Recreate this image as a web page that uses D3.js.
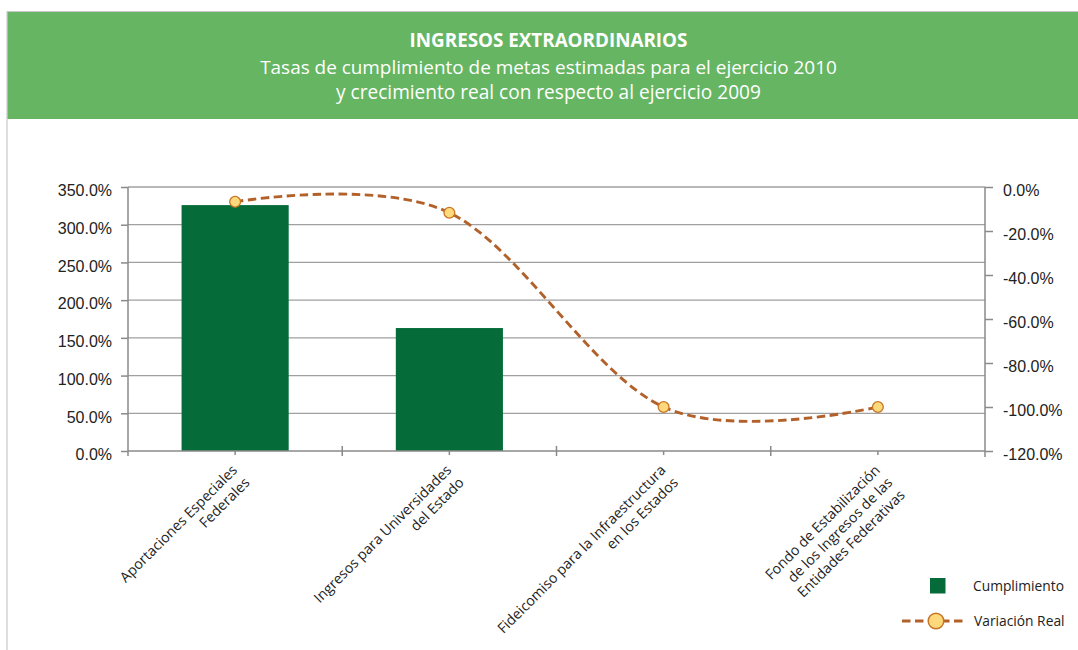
<!DOCTYPE html>
<html>
<head>
<meta charset="utf-8">
<script src="https://cdn.jsdelivr.net/npm/d3@7"></script>
<style>
  html, body { margin: 0; padding: 0; background: #fff; }
  svg { display: block; font-family: "Open Sans", "Noto Sans", sans-serif; }
</style>
</head>
<body>
<svg id="chart" width="1078" height="650"></svg>
<script>
// ---------- data ----------
const titleText = "INGRESOS EXTRAORDINARIOS";
const subtitleLines = [
  "Tasas de cumplimiento de metas estimadas para el ejercicio 2010",
  "y crecimiento real con respecto al ejercicio 2009"
];
const categories = [
  ["Aportaciones Especiales", "Federales"],
  ["Ingresos para Universidades", "del Estado"],
  ["Fideicomiso para la Infraestructura", "en los Estados"],
  ["Fondo de Estabilización", "de los Ingresos de las", "Entidades  Federativas"]
];
const categoryKeys = categories.map(c => c.join(" "));
const cumplimiento = [326.0, 163.0, 0, 0];          // %, left axis
const variacionReal = [-6.7, -11.7, -100.0, -100.0]; // %, right axis
const leftTicks = [0, 50, 100, 150, 200, 250, 300, 350];
const rightTicks = [0, -20, -40, -60, -80, -100, -120];
const legendLabels = ["Cumplimiento", "Variación Real"];

// ---------- styles ----------
const headerGreen = "#66b562";
const barColor = "#046b39";
const lineColor = "#b3612a";
const markerFill = "#fdd97c";
const markerStroke = "#c67626";
const gridColor = "#a0a0a0";
const axisColor = "#8a8a8a";
const textColor = "#222";

const svg = d3.select("#chart");

// ---------- frame and header ----------
svg.append("line").attr("x1", 7).attr("x2", 1078).attr("y1", 11.5).attr("y2", 11.5)
  .attr("stroke", "#c8c8c8").attr("stroke-width", 1);
svg.append("line").attr("x1", 7).attr("x2", 7).attr("y1", 11.5).attr("y2", 650)
  .attr("stroke", "#c8c8c8").attr("stroke-width", 1.2);
svg.append("rect").attr("x", 7.5).attr("y", 12).attr("width", 1071).attr("height", 107)
  .attr("fill", headerGreen);

function fitText(sel, target) {
  const base = parseFloat(sel.attr("font-size"));
  const w = sel.node().getComputedTextLength();
  if (w > 0) sel.attr("font-size", (base * target / w).toFixed(2));
}
const cxHeader = 548.5;
const t0 = svg.append("text").attr("x", cxHeader).attr("y", 47).attr("text-anchor", "middle")
  .attr("fill", "#fff").attr("font-weight", "bold").attr("font-size", 17).text(titleText);
fitText(t0, 278);
const subWidths = [577, 425];
const subY = [74, 99];
subtitleLines.forEach((s, i) => {
  const t = svg.append("text").attr("x", cxHeader).attr("y", subY[i]).attr("text-anchor", "middle")
    .attr("fill", "#fff").attr("font-size", 19).text(s);
  fitText(t, subWidths[i]);
});

// ---------- scales ----------
const x0 = 128, x1 = 985, yTop = 187, yBot = 451;
const x = d3.scaleBand().domain(categoryKeys).range([x0, x1]).paddingInner(0.5).paddingOuter(0.25);
const yL = d3.scaleLinear().domain([0, 350]).range([yBot, yTop]);
const yR = d3.scaleLinear().domain([-120, 0]).range([yBot, yTop]);
const step = x.step();
const cx = k => x(k) + x.bandwidth() / 2;

// gridlines
svg.append("g").selectAll("line").data(leftTicks.filter(d => d > 0)).join("line")
  .attr("x1", x0).attr("x2", x1).attr("y1", d => yL(d)).attr("y2", d => yL(d))
  .attr("stroke", gridColor).attr("stroke-width", 1.3);

// bars
svg.append("g").selectAll("rect").data(cumplimiento).join("rect")
  .attr("x", (d, i) => x(categoryKeys[i]))
  .attr("width", x.bandwidth())
  .attr("y", d => yL(d))
  .attr("height", d => yBot - yL(d))
  .attr("fill", barColor);

// left axis
const fmt = d => d.toFixed(1) + "%";
const gL = svg.append("g").attr("transform", `translate(${x0},0)`)
  .call(d3.axisLeft(yL).tickValues(leftTicks).tickFormat(fmt).tickSize(7).tickPadding(9));
gL.select(".domain").remove();
gL.append("line").attr("x1", 0).attr("x2", 0).attr("y1", yTop).attr("y2", yBot + 5)
  .attr("stroke", axisColor).attr("stroke-width", 1.5);
gL.selectAll(".tick line").attr("stroke", axisColor).attr("stroke-width", 1.5);
gL.selectAll(".tick text").attr("font-size", 16).attr("fill", textColor).attr("dy", "0.55em");

// right axis
const gR = svg.append("g").attr("transform", `translate(${x1},0)`)
  .call(d3.axisRight(yR).tickValues(rightTicks).tickFormat(fmt).tickSize(8).tickPadding(10));
gR.select(".domain").remove();
gR.append("line").attr("x1", 0).attr("x2", 0).attr("y1", yTop).attr("y2", yBot + 6)
  .attr("stroke", axisColor).attr("stroke-width", 1.5);
gR.selectAll(".tick line").attr("stroke", axisColor).attr("stroke-width", 1.5);
gR.selectAll(".tick text").attr("font-size", 16).attr("fill", textColor).attr("dy", "0.55em");

// bottom axis
const gB = svg.append("g");
gB.append("line").attr("x1", x0).attr("x2", x1).attr("y1", yBot).attr("y2", yBot)
  .attr("stroke", axisColor).attr("stroke-width", 1.5);
const boundaries = d3.range(categoryKeys.length + 1).map(i => x0 + i * step);
gB.selectAll("line.b").data(boundaries.slice(1, -1)).join("line").attr("class", "b")
  .attr("x1", d => d).attr("x2", d => d).attr("y1", yBot - 5).attr("y2", yBot + 5)
  .attr("stroke", axisColor).attr("stroke-width", 1.5);
gB.selectAll("line.c").data(categoryKeys).join("line").attr("class", "c")
  .attr("x1", d => cx(d)).attr("x2", d => cx(d)).attr("y1", yBot).attr("y2", yBot + 4)
  .attr("stroke", axisColor).attr("stroke-width", 1.5);

// category labels
const lab = gB.selectAll("g.lab").data(categories).join("g").attr("class", "lab")
  .attr("transform", (d, i) => `translate(${cx(categoryKeys[i]) + 0},468) rotate(-45)`);
lab.append("text").attr("text-anchor", "end").attr("font-size", 14.2).attr("fill", textColor)
  .selectAll("tspan").data(d => d).join("tspan")
  .attr("x", 0).attr("dy", (d, i) => i === 0 ? "0.3em" : "1.24em").text(d => d);

// line
const pts = variacionReal.map((v, i) => [cx(categoryKeys[i]), yR(v)]);
svg.append("path").datum(pts)
  .attr("d", d3.line().curve(d3.curveCardinal.tension(0)))
  .attr("fill", "none").attr("stroke", lineColor).attr("stroke-width", 2.9)
  .attr("stroke-dasharray", "8.5,4.5");
svg.append("g").selectAll("circle").data(pts).join("circle")
  .attr("cx", d => d[0]).attr("cy", d => d[1]).attr("r", 5.4)
  .attr("fill", markerFill).attr("stroke", markerStroke).attr("stroke-width", 1.3);

// legend
const lg = svg.append("g");
lg.append("rect").attr("x", 930).attr("y", 578).attr("width", 15.5).attr("height", 15.5).attr("fill", barColor);
lg.append("text").attr("x", 973).attr("y", 591).attr("font-size", 13.8).attr("fill", textColor).text(legendLabels[0]);
lg.append("line").attr("x1", 902).attr("x2", 966).attr("y1", 621).attr("y2", 621)
  .attr("stroke", lineColor).attr("stroke-width", 2.9).attr("stroke-dasharray", "8.5,4.5");
lg.append("circle").attr("cx", 936).attr("cy", 621).attr("r", 7.8)
  .attr("fill", markerFill).attr("stroke", markerStroke).attr("stroke-width", 1.5);
lg.append("text").attr("x", 974).attr("y", 626).attr("font-size", 13.8).attr("fill", textColor).text(legendLabels[1]);
</script>
</body>
</html>
